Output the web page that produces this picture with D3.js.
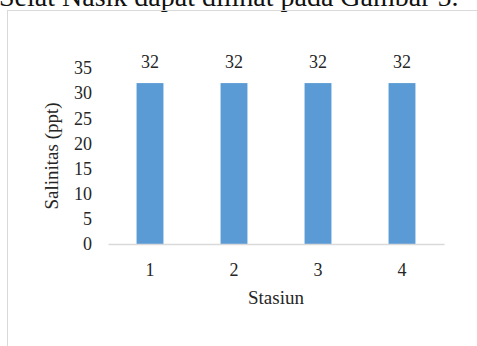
<!DOCTYPE html>
<html>
<head>
<meta charset="utf-8">
<script src="https://cdn.jsdelivr.net/npm/d3@7/dist/d3.min.js"></script>
<style>
  html, body { margin: 0; padding: 0; background: #fff; }
  svg { display: block; }
  text { font-family: "Liberation Serif", "Times New Roman", serif; fill: #262626; }
</style>
</head>
<body>
<svg id="chart" width="477" height="346"></svg>
<script>
// Salinity per station
const stations = ["1", "2", "3", "4"];
const salinity = [32, 32, 32, 32];
const yTicks = [0, 5, 10, 15, 20, 25, 30, 35];
const xTitle = "Stasiun";
const yTitle = "Salinitas (ppt)";
const caption = "Selat Nasik dapat dilihat pada Gambar 5.";

const serif = "'Liberation Serif', 'Times New Roman', serif";
const svg = d3.select("#chart");

// caption line of the surrounding document
svg.append("text")
  .attr("x", -1).attr("y", 6)
  .style("font-family", serif)
  .style("font-size", "28px")
  .style("fill", "#111")
  .text(caption);

// chart frame
svg.append("rect")
  .attr("x", 7.5).attr("y", 10.5)
  .attr("width", 480).attr("height", 360)
  .attr("fill", "none")
  .attr("stroke", "#d9d9d9")
  .attr("stroke-width", 1);

const plot = { left: 108, right: 444, top: 68, bottom: 244 };

const x = d3.scaleBand()
  .domain(stations)
  .range([plot.left, plot.right])
  .paddingInner(0.68)
  .paddingOuter(0.34);

const y = d3.scaleLinear()
  .domain([0, 35])
  .range([plot.bottom, plot.top]);

// bars
svg.append("g").selectAll("rect")
  .data(stations)
  .join("rect")
  .attr("x", d => x(d))
  .attr("y", (d, i) => y(salinity[i]))
  .attr("width", x.bandwidth())
  .attr("height", (d, i) => y(0) - y(salinity[i]))
  .attr("fill", "#5b9bd5");

// value labels
svg.append("g").selectAll("text")
  .data(stations)
  .join("text")
  .attr("x", d => x(d) + x.bandwidth() / 2)
  .attr("y", (d, i) => y(salinity[i]) - 21)
  .attr("text-anchor", "middle")
  .attr("dominant-baseline", "central")
  .style("font-family", serif)
  .style("font-size", "18px")
  .text((d, i) => salinity[i]);

// y axis (labels only)
const yAxis = d3.axisLeft(y).tickValues(yTicks).tickSize(0).tickPadding(16);
const gy = svg.append("g").attr("transform", `translate(${plot.left},0)`).call(yAxis);
gy.attr("font-family", null).attr("font-size", null);
gy.select(".domain").remove();
gy.selectAll("text")
  .style("font-size", "18px")
  .style("font-family", serif)
  .attr("fill", "#262626");

// x axis
const xAxis = d3.axisBottom(x).tickSize(0).tickPadding(19);
const gx = svg.append("g").attr("transform", `translate(0,${plot.bottom})`).call(xAxis);
gx.attr("font-family", null).attr("font-size", null);
gx.select(".domain").attr("stroke", "#d9d9d9").attr("stroke-width", 1.5);
gx.selectAll("text")
  .style("font-size", "18px")
  .style("font-family", serif)
  .attr("fill", "#262626");

// axis titles
svg.append("text")
  .attr("x", (plot.left + plot.right) / 2)
  .attr("y", 297)
  .attr("text-anchor", "middle")
  .attr("dominant-baseline", "central")
  .style("font-family", serif)
  .style("font-size", "19px")
  .text(xTitle);

svg.append("text")
  .attr("transform", `translate(51,${(plot.top + plot.bottom) / 2}) rotate(-90)`)
  .attr("text-anchor", "middle")
  .attr("dominant-baseline", "central")
  .style("font-family", serif)
  .style("font-size", "19px")
  .text(yTitle);
</script>
</body>
</html>
